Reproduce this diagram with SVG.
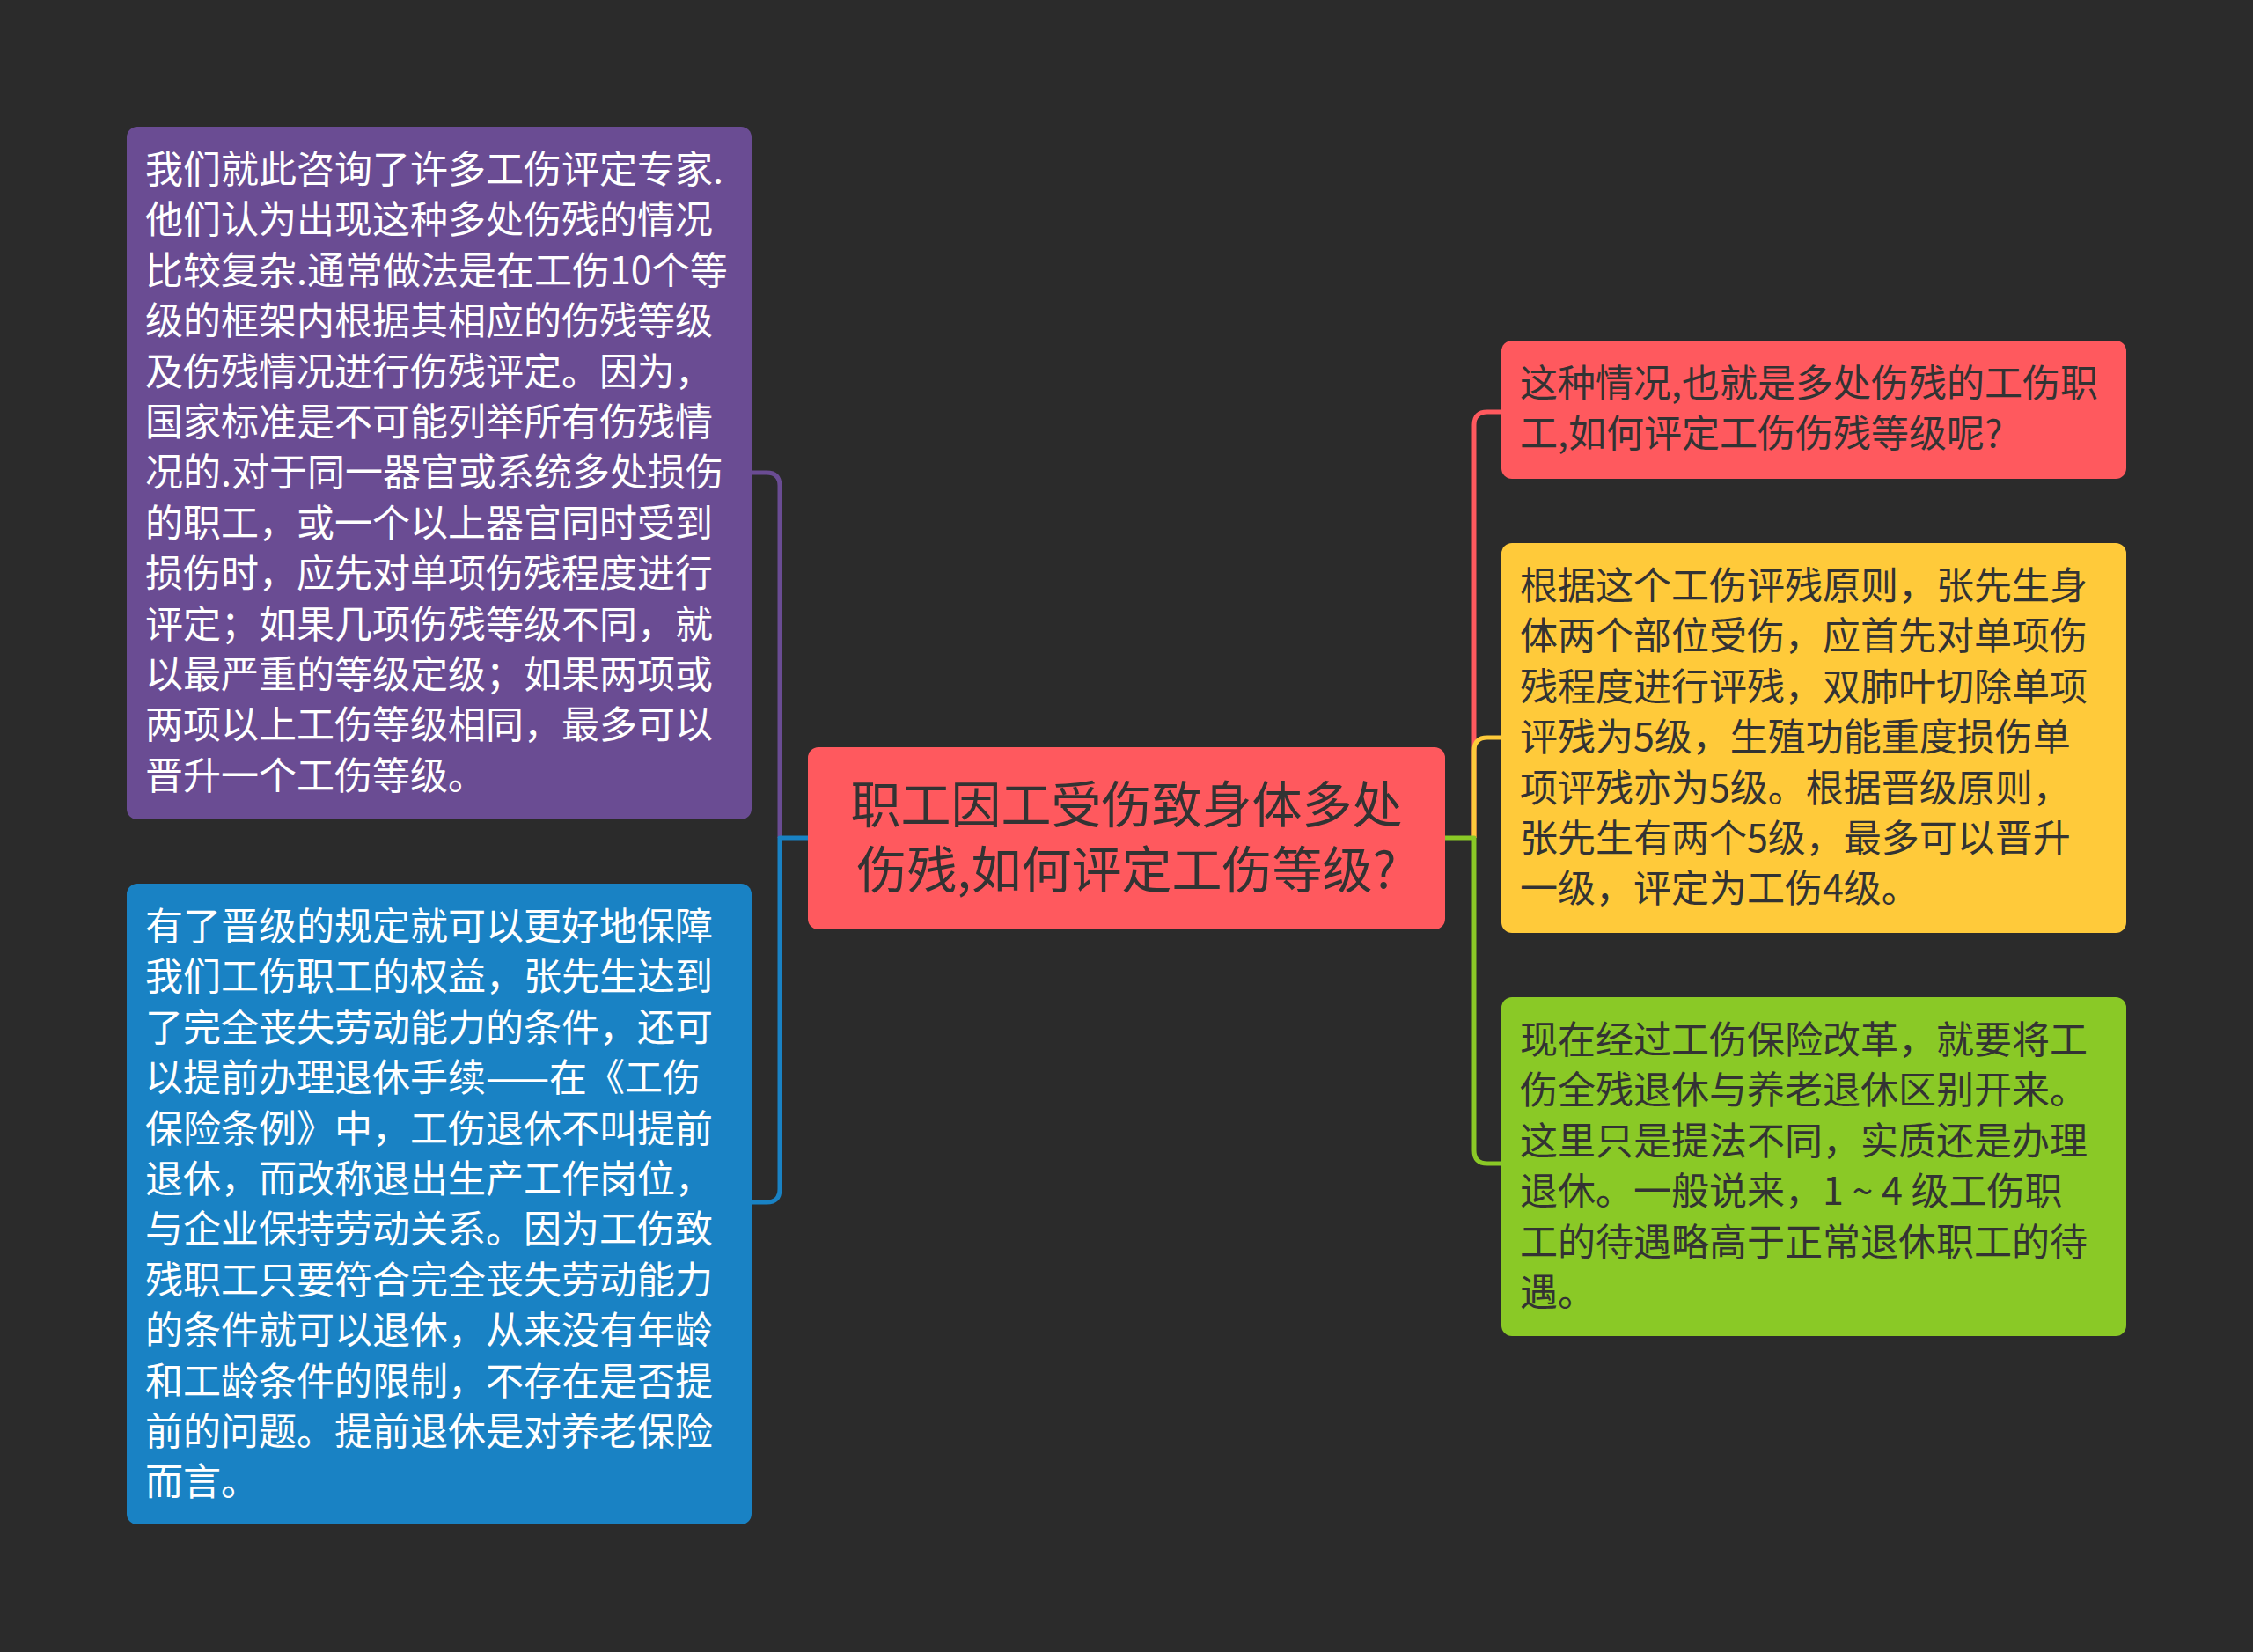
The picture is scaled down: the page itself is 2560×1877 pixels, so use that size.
<svg xmlns="http://www.w3.org/2000/svg" width="2560" height="1877" viewBox="0 0 2560 1877">
<style>
.t{font-family:"Noto Sans CJK SC","Noto Sans",sans-serif;font-size:43px}
.w{fill:#ffffff}
.d{fill:#333333}
.c{font-family:"Noto Sans CJK SC","Noto Sans",sans-serif;font-size:57px;fill:#333333;text-anchor:middle}
.l{fill:none;stroke-width:5;stroke-linejoin:round}
</style>
<rect width="2560" height="1877" fill="#2b2b2b"/>
<g id="connectors">
<path class="l" stroke="#6a4c93" d="M886 952 V552 Q886 537 871 537 H854"/>
<path class="l" stroke="#1982c4" d="M918 952 H886 V1351 Q886 1366 871 1366 H854"/>
<path class="l" stroke="#ff595e" d="M1675 952 V483 Q1675 468 1690 468 H1706"/>
<path class="l" stroke="#ffca3a" d="M1675 952 V853 Q1675 838 1690 838 H1706"/>
<path class="l" stroke="#8ac926" d="M1642 952 H1675 V1307 Q1675 1322 1690 1322 H1706"/>
</g>
<g id="center">
<rect x="918" y="849" width="724" height="207" rx="12" fill="#ff595e"/>
<text class="c"><tspan x="1280" y="935">职工因工受伤致身体多处</tspan><tspan x="1280" y="1009">伤残,如何评定工伤等级?</tspan></text>
</g>
<g id="node-purple">
<rect x="144" y="144" width="710" height="787" rx="12" fill="#6a4c93"/>
<text class="t w">
<tspan x="165" y="208">我们就此咨询了许多工伤评定专家.</tspan>
<tspan x="165" y="265.4">他们认为出现这种多处伤残的情况</tspan>
<tspan x="165" y="322.8">比较复杂.通常做法是在工伤10个等</tspan>
<tspan x="165" y="380.2">级的框架内根据其相应的伤残等级</tspan>
<tspan x="165" y="437.6">及伤残情况进行伤残评定。因为，</tspan>
<tspan x="165" y="495">国家标准是不可能列举所有伤残情</tspan>
<tspan x="165" y="552.4">况的.对于同一器官或系统多处损伤</tspan>
<tspan x="165" y="609.8">的职工，或一个以上器官同时受到</tspan>
<tspan x="165" y="667.2">损伤时，应先对单项伤残程度进行</tspan>
<tspan x="165" y="724.6">评定；如果几项伤残等级不同，就</tspan>
<tspan x="165" y="782">以最严重的等级定级；如果两项或</tspan>
<tspan x="165" y="839.4">两项以上工伤等级相同，最多可以</tspan>
<tspan x="165" y="896.8">晋升一个工伤等级。</tspan>
</text>
</g>
<g id="node-blue">
<rect x="144" y="1004" width="710" height="728" rx="12" fill="#1982c4"/>
<text class="t w">
<tspan x="165" y="1068">有了晋级的规定就可以更好地保障</tspan>
<tspan x="165" y="1125.4">我们工伤职工的权益，张先生达到</tspan>
<tspan x="165" y="1182.8">了完全丧失劳动能力的条件，还可</tspan>
<tspan x="165" y="1240.2">以提前办理退休手续——在《工伤</tspan>
<tspan x="165" y="1297.6">保险条例》中，工伤退休不叫提前</tspan>
<tspan x="165" y="1355">退休，而改称退出生产工作岗位，</tspan>
<tspan x="165" y="1412.4">与企业保持劳动关系。因为工伤致</tspan>
<tspan x="165" y="1469.8">残职工只要符合完全丧失劳动能力</tspan>
<tspan x="165" y="1527.2">的条件就可以退休，从来没有年龄</tspan>
<tspan x="165" y="1584.6">和工龄条件的限制，不存在是否提</tspan>
<tspan x="165" y="1642">前的问题。提前退休是对养老保险</tspan>
<tspan x="165" y="1699.4">而言。</tspan>
</text>
</g>
<g id="node-red">
<rect x="1706" y="387" width="710" height="157" rx="12" fill="#ff595e"/>
<text class="t d">
<tspan x="1727" y="451">这种情况,也就是多处伤残的工伤职</tspan>
<tspan x="1727" y="508.4">工,如何评定工伤伤残等级呢?</tspan>
</text>
</g>
<g id="node-yellow">
<rect x="1706" y="617" width="710" height="443" rx="12" fill="#ffca3a"/>
<text class="t d">
<tspan x="1727" y="681">根据这个工伤评残原则，张先生身</tspan>
<tspan x="1727" y="738.4">体两个部位受伤，应首先对单项伤</tspan>
<tspan x="1727" y="795.8">残程度进行评残，双肺叶切除单项</tspan>
<tspan x="1727" y="853.2">评残为5级，生殖功能重度损伤单</tspan>
<tspan x="1727" y="910.6">项评残亦为5级。根据晋级原则，</tspan>
<tspan x="1727" y="968">张先生有两个5级，最多可以晋升</tspan>
<tspan x="1727" y="1025.4">一级，评定为工伤4级。</tspan>
</text>
</g>
<g id="node-green">
<rect x="1706" y="1133" width="710" height="385" rx="12" fill="#8ac926"/>
<text class="t d">
<tspan x="1727" y="1197">现在经过工伤保险改革，就要将工</tspan>
<tspan x="1727" y="1254.4">伤全残退休与养老退休区别开来。</tspan>
<tspan x="1727" y="1311.8">这里只是提法不同，实质还是办理</tspan>
<tspan x="1727" y="1369.2">退休。一般说来，1 ~ 4 级工伤职</tspan>
<tspan x="1727" y="1426.6">工的待遇略高于正常退休职工的待</tspan>
<tspan x="1727" y="1484">遇。</tspan>
</text>
</g>
</svg>
